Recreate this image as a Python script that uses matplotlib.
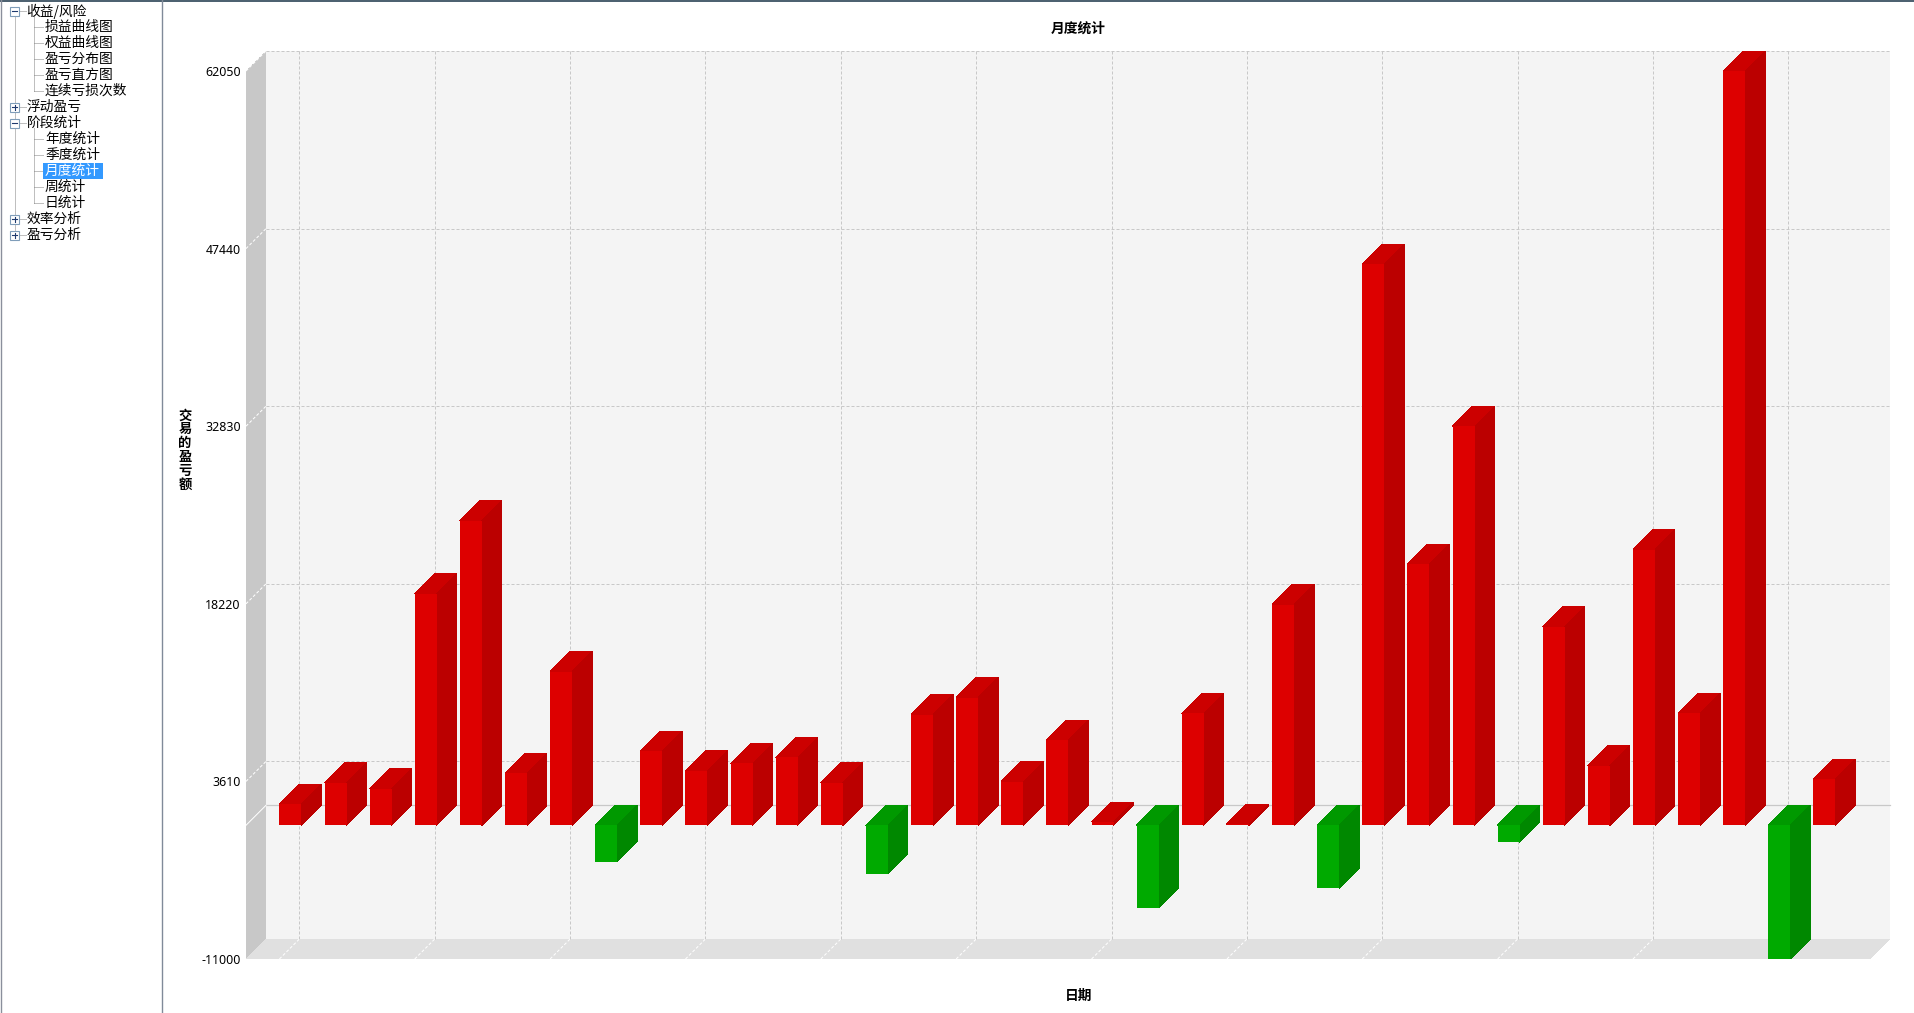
import matplotlib
matplotlib.use("Agg")
import matplotlib.pyplot as plt
from matplotlib.patches import Polygon, Rectangle

plt.rcParams['font.family'] = ['Noto Sans CJK SC', 'DejaVu Sans']

W, H = 1914, 1013

# monthly profit / loss
values = [1750, 3480, 2990, 19040, 25070, 4300, 12630, -3000, 6100, 4490, 5090, 5590,
          3480, -4000, 9110, 10510, 3590, 7000, 270, -6780, 9210, 100, 18150, -5200,
          46170, 21460, 32810, -1390, 16340, 4900, 22670, 9210, 62050, -11000, 3790]
y_ticks = [-11000, 3610, 18220, 32830, 47440, 62050]

title = "月度统计"
x_title = "日期"
y_title = "交易的盈亏额"

tree_level = [0, 1, 1, 1, 1, 1, 0, 0, 1, 1, 1, 1, 1, 0, 0]
tree_text = ["收益/风险", "损益曲线图", "权益曲线图", "盈亏分布图", "盈亏直方图", "连续亏损次数",
             "浮动盈亏", "阶段统计", "年度统计", "季度统计", "月度统计", "周统计", "日统计",
             "效率分析", "盈亏分析"]
tree_open = [True, None, None, None, None, None, False, True, None, None, None, None, None,
             False, False]
tree_selected = "月度统计"

# plot box in pixels
left, right, top, bottom = 246, 1870, 71, 959
depth = 20
step = 45.12
bar_px = 22
first_bar = 279.4

fig = plt.figure(figsize=(W / 100, H / 100), dpi=100, facecolor="white")
ax = fig.add_axes([left / W, 1 - bottom / H, (right - left) / W, (bottom - top) / H])
ax.set_xlim((left - first_bar) / step, (right - first_bar) / step)
ax.set_ylim(y_ticks[0], y_ticks[-1])
ax.patch.set_visible(False)
for s in ax.spines.values():
    s.set_visible(False)

# pixel sizes turned into data units
dx = depth / step
dy = depth * (y_ticks[-1] - y_ticks[0]) / (bottom - top)
bw = bar_px / step
x0, x1 = ax.get_xlim()
y0, y1 = ax.get_ylim()


def face(pts, color, z):
    ax.add_patch(Polygon(pts, closed=True, facecolor=color, edgecolor="none",
                         antialiased=False, clip_on=False, zorder=z))


# walls
face([(x0 + dx, y0 + dy), (x1 + dx, y0 + dy), (x1 + dx, y1 + dy), (x0 + dx, y1 + dy)], "#F4F4F4", 1)
face([(x0, y0), (x0 + dx, y0 + dy), (x0 + dx, y1 + dy), (x0, y1)], "#C8C8C8", 1)
face([(x0, y0), (x1, y0), (x1 + dx, y0 + dy), (x0 + dx, y0 + dy)], "#E0E0E0", 1)

grid = dict(color="#C8C8C8", lw=0.72, ls=(0, (3, 2)), clip_on=False, zorder=2)
diag = dict(color="white", lw=0.72, ls=(0, (3, 2)), clip_on=False, zorder=2)

for t in y_ticks[1:]:
    ax.plot([x0 + dx, x1 + dx], [t + dy, t + dy], **grid)
    ax.plot([x0, x0 + dx], [t, t + dy], **diag)
for i in range(0, len(values), 3):
    ax.plot([i + dx, i + dx], [y0 + dy, y1 + dy], **grid)
    ax.plot([i, i + dx], [y0, y0 + dy], **diag)

# zero line
ax.plot([x0 + dx, x1 + dx], [dy, dy], color="#C8C8C8", lw=0.9, clip_on=False, zorder=2)
ax.plot([x0, x0 + dx], [0, dy], color="white", lw=0.72, clip_on=False, zorder=2)

# bars
xs = list(range(len(values)))
front = ["#DD0000" if v >= 0 else "#00AA00" for v in values]
ax.bar(xs, values, width=bw, align="edge", color=front, linewidth=0, antialiased=False,
       clip_on=False, zorder=4)
for x, v in zip(xs, values):
    hi, lo = max(v, 0), min(v, 0)
    c_top, c_side = ("#CC0000", "#BB0000") if v >= 0 else ("#009900", "#008800")
    r = x + bw
    face([(x, hi), (x + dx, hi + dy), (r + dx, hi + dy), (r, hi)], c_top, 3)
    face([(r, lo), (r + dx, lo + dy), (r + dx, hi + dy), (r, hi)], c_side, 3)

ax.set_xticks([])
ax.set_yticks(y_ticks)
ax.set_yticklabels([str(t) for t in y_ticks], family="Noto Sans", fontsize=8.9)
ax.tick_params(axis="y", length=0, pad=3.7)

# overlay in pixel coordinates: labels and the tree panel
ov = fig.add_axes([0, 0, 1, 1], zorder=5)
ov.set_xlim(0, W)
ov.set_ylim(H, 0)
ov.axis("off")

ov.text(1078, 29, title, fontsize=9.9, fontweight="bold", ha="center", va="center")
ov.text(1079, 996, x_title, fontsize=9.9, fontweight="bold", ha="center", va="center")
ov.text(185, 450, "\n".join(y_title), fontsize=9.6, fontweight="bold", ha="center", va="center",
        linespacing=0.98)

# frame lines
ov.plot([0, W], [0.5, 0.5], color="#4A5E6E", lw=1.4)
ov.plot([0.7, 0.7], [0, H], color="#8A8F9C", lw=1.0)
ov.plot([161.5, 161.5], [0, H], color="#808A99", lw=1.0)

dots = dict(color="#808080", lw=0.72, ls=(0, (1, 1)))
row_y = [11 + 16 * i for i in range(len(tree_text))]
tops = [i for i, l in enumerate(tree_level) if l == 0]
ov.plot([14.5, 14.5], [row_y[tops[0]], row_y[tops[-1]]], **dots)
for i, (lvl, txt, op) in enumerate(zip(tree_level, tree_text, tree_open)):
    y = row_y[i]
    if lvl == 0:
        ov.plot([14.5, 26], [y, y], **dots)
        ov.add_patch(Rectangle((10, y - 4.5), 9, 9, facecolor="white", edgecolor="#7F9DB9",
                               lw=0.8, zorder=3))
        ov.plot([12, 17], [y, y], color="#1F3A6E", lw=0.8, zorder=4)
        if not op:
            ov.plot([14.5, 14.5], [y - 2.5, y + 2.5], color="#1F3A6E", lw=0.8, zorder=4)
        ov.text(26.5, y, txt, fontsize=9.9, ha="left", va="center", color="black")
    else:
        ov.plot([33.5, 44], [y, y], **dots)
        # vertical branch up to the parent row
        if i + 1 == len(tree_level) or tree_level[i + 1] == 0:
            p = i
            while tree_level[p] != 0:
                p -= 1
            ov.plot([33.5, 33.5], [row_y[p] + 5, y], **dots)
        sel = txt == tree_selected
        if sel:
            ov.add_patch(Rectangle((43, y - 8), 60, 16, facecolor="#3399FF", edgecolor="none", zorder=2))
        ov.text(45, y, txt, fontsize=9.9, ha="left", va="center",
                color="white" if sel else "black", zorder=3)

fig.savefig("out.png", dpi=100)
